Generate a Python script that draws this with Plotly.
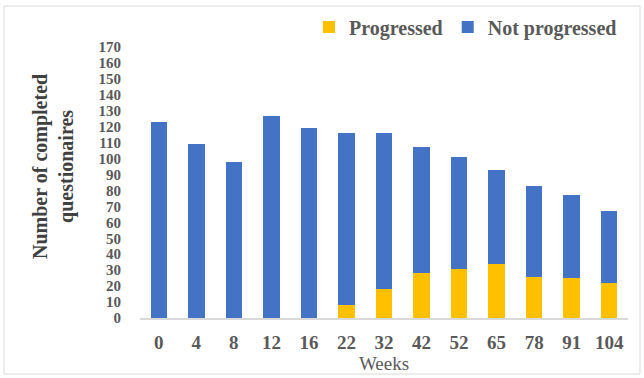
import plotly.graph_objects as go

# Completed questionnaires per visit week, split by progression status
weeks = ["0", "4", "8", "12", "16", "22", "32", "42", "52", "65", "78", "91", "104"]
progressed = [0, 0, 0, 0, 0, 8, 18, 28, 31, 34, 26, 25, 22]
not_progressed = [123, 109, 98, 127, 119, 108, 98, 79, 70, 59, 57, 52, 45]
y_ticks = list(range(0, 171, 10))

W, H = 644, 378
L, R, T, B = 140, 16, 47, 60
pw, ph = W - L - R, H - T - B

def px_x(px):
    return (px - L) / pw

def px_y(py):
    return (H - B - py) / ph

FONT = "Liberation Serif"
GREY = "#595959"

fig = go.Figure()
fig.add_trace(go.Bar(x=weeks, y=progressed, name="Progressed",
                     marker=dict(color="#FFC000", line=dict(width=0))))
fig.add_trace(go.Bar(x=weeks, y=not_progressed, name="Not progressed",
                     marker=dict(color="#4472C4", line=dict(width=0))))

fig.update_layout(
    width=W, height=H,
    margin=dict(l=L, r=R, t=T, b=B, pad=0, autoexpand=False),
    barmode="stack", bargap=0.56,
    plot_bgcolor="white", paper_bgcolor="white",
    font=dict(family=FONT, color=GREY),
    showlegend=True,
    legend=dict(orientation="h", traceorder="normal",
                x=px_x(622), xanchor="right", y=px_y(27), yanchor="middle",
                font=dict(family=FONT, size=20, color=GREY, weight="bold"),
                itemwidth=30, bgcolor="rgba(0,0,0,0)"),
    xaxis=dict(type="category", showgrid=False, zeroline=False,
               showline=True, linecolor="#d9d9d9", linewidth=1.5,
               ticks="", ticklabelstandoff=6, automargin=False,
               tickfont=dict(family=FONT, size=19, color=GREY, weight="bold"),
               title=dict(text="Weeks", standoff=0,
                          font=dict(family=FONT, size=19, color=GREY))),
    yaxis=dict(range=[0, 170], tickvals=y_ticks, showgrid=False,
               zeroline=False, showline=False, ticks="",
               ticklabelstandoff=18, automargin=False,
               tickfont=dict(family=FONT, size=15, color=GREY, weight="bold")),
    shapes=[dict(type="rect", xref="paper", yref="paper",
                 x0=px_x(4), x1=px_x(640), y0=px_y(374), y1=px_y(6),
                 line=dict(color="#d9d9d9", width=1), layer="below")],
    annotations=[dict(text="Number of completed<br>questionaires",
                      xref="paper", yref="paper", x=px_x(53), y=px_y(167),
                      xanchor="center", yanchor="middle", textangle=-90,
                      showarrow=False,
                      font=dict(family=FONT, size=20, color="#404040",
                                weight="bold"))],
)

fig.write_html("out.html")
